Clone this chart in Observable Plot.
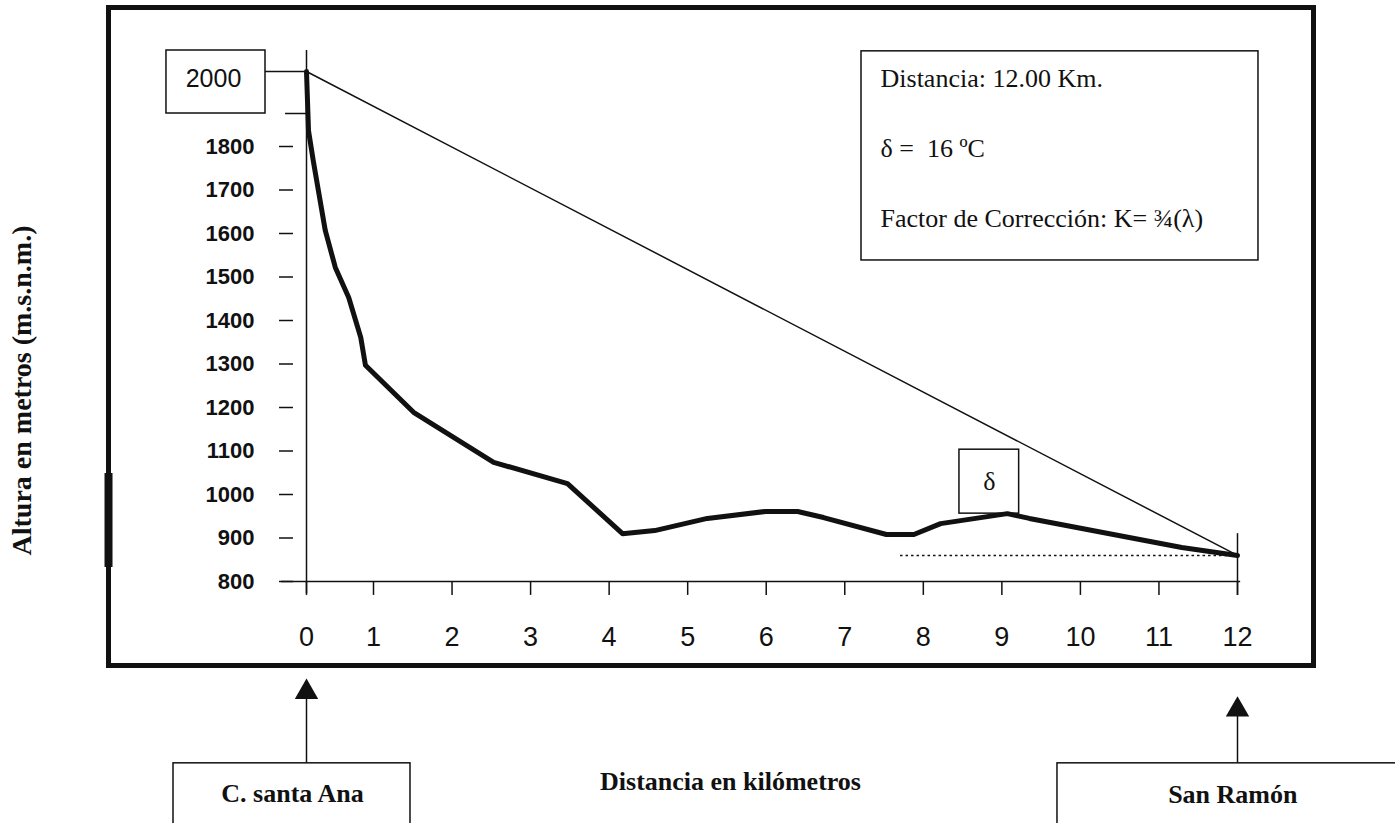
<!DOCTYPE html>
<html>
<head>
<meta charset="utf-8">
<script src="https://cdn.jsdelivr.net/npm/d3@7"></script>
<script src="https://cdn.jsdelivr.net/npm/@observablehq/plot@0.6"></script>
<style>
  body { margin: 0; background: #fff; }
</style>
</head>
<body>
<div id="chart"></div>
<script>
// Perfil altitudinal entre C. Santa Ana y San Ramón
const distanciaKm = [0, 0.03, 0.10, 0.28, 0.43, 0.63, 0.81, 0.88, 1.51, 2.53, 3.47, 4.17, 4.58, 5.25, 5.99, 6.40, 6.73, 7.53, 7.88, 8.22, 9.07, 9.35, 11.29, 12];
const alturaM     = [2000, 1848, 1768, 1607, 1522, 1453, 1361, 1297, 1189, 1074, 1025, 910, 917, 945, 961, 961, 947, 908, 908, 933, 956, 945, 878, 860];

const ticksKm = [0, 1, 2, 3, 4, 5, 6, 7, 8, 9, 10, 11, 12];
const ticksAltura = [800, 900, 1000, 1100, 1200, 1300, 1400, 1500, 1600, 1700, 1800];
const alturaInicio = 2000;
const textosInfo = ["Distancia: 12.00 Km.", "\u03b4 =\u00a0 16 \u00baC", "Factor de Corrección: K= \u00be(\u03bb)"];
const origen = "C. santa Ana";
const destino = "San Ramón";
const tituloX = "Distancia en kilómetros";
const tituloY = "Altura en metros (m.s.n.m.)";

const perfil = distanciaKm.map((km, i) => ({km, m: alturaM[i]}));
const inicio = perfil[0];
const fin = perfil[perfil.length - 1];

const ink = "#111";
const serif = "'Liberation Serif', 'Times New Roman', serif";
const sans = "'Liberation Sans', Arial, sans-serif";

// The drawing's axes are not uniform: the first kilometre is drawn shorter,
// and the band 1800–2000 m is drawn compressed. These piecewise maps turn
// km and metres into drawing units that are then scaled linearly.
const tramoKm0 = 0.853;                       // width of km 0–1 relative to the others
const tramoAlt1 = 0.33 / 0.435;               // 1800–1900 m relative to 800–1800 m
const tramoAlt2 = 0.42 / 0.435;               // 1900–2000 m and above
const kmDibujo = (km) => km < 1 ? km * tramoKm0 : tramoKm0 + (km - 1);
const altDibujo = (m) => m <= 1800 ? m
  : m <= 1900 ? 1800 + (m - 1800) * tramoAlt1
  : 1800 + 100 * tramoAlt1 + (m - 1900) * tramoAlt2;

// annotation boxes, in km / metres
const cajas = [
  {x1: -2.09, x2: -0.612, y1: 1900, y2: 2050},   // valor 2000
  {x1: 7.213, x2: 12.267, y1: 1538, y2: 2048},   // datos del tramo
  {x1: 8.46, x2: 9.22, y1: 956, y2: 1103},       // delta
  {x1: -1.985, x2: 1.471, y1: 205, y2: 382},     // origen
  {x1: 9.708, x2: 14.4, y1: 205, y2: 382}        // destino
];
const flechas = [
  {km: inicio.km, punta: 545.7, base: 540, caja: 382},
  {km: fin.km, punta: 505, base: 490, caja: 382}
];

const chart = Plot.plot({
  width: 1395,
  height: 823,
  marginLeft: 108,
  marginRight: 82,
  marginTop: 7,
  marginBottom: 158,
  style: {background: "#fff", color: ink, overflow: "visible"},
  x: {axis: null, transform: kmDibujo, domain: [kmDibujo(0), kmDibujo(12)], range: [306, 1237]},
  y: {axis: null, transform: altDibujo, domain: [altDibujo(800), altDibujo(2000)], range: [581, 71]},
  marks: [
    Plot.frame({stroke: ink, strokeWidth: 5}),
    Plot.ruleX([-2.955], {y1: 832, y2: 1048, stroke: ink, strokeWidth: 8}),

    // axis lines
    Plot.ruleX([0], {y1: 772, y2: 2050, stroke: ink, strokeWidth: 1.5}),
    Plot.ruleY([800], {x1: -0.373, x2: 12.04, stroke: ink, strokeWidth: 1.5}),
    Plot.ruleX([12], {y1: 768, y2: 910, stroke: ink, strokeWidth: 1.5}),
    Plot.ruleY([1900], {x1: -0.313, x2: 0, stroke: ink, strokeWidth: 1.5}),
    Plot.ruleY([alturaInicio], {x1: -0.612, x2: 0, stroke: ink, strokeWidth: 1.5}),

    // x ticks and labels (kilometres)
    Plot.ruleX(ticksKm, {y1: 800, y2: 768, stroke: ink, strokeWidth: 1.5}),
    Plot.text(ticksKm, {x: (d) => d, y: 671, text: (d) => String(d), fontSize: 27, fontFamily: sans, fill: ink}),

    // y ticks and labels (metres), detached from the axis line
    Plot.ruleY(ticksAltura, {x1: -0.403, x2: -0.194, stroke: ink, strokeWidth: 1.5}),
    Plot.text(ticksAltura, {
      x: -0.776, y: (d) => d, text: (d) => String(d), textAnchor: "end",
      fontSize: 22, fontWeight: "bold", fontFamily: sans, fill: ink
    }),

    // annotation boxes
    Plot.rect(cajas, {x1: "x1", x2: "x2", y1: "y1", y2: "y2", fill: "#fff", stroke: ink, strokeWidth: 1.5}),

    // straight line between both ends and level of arrival
    Plot.line([inicio, fin], {x: "km", y: "m", stroke: ink, strokeWidth: 1.5}),
    Plot.ruleY([fin.m], {x1: 7.71, x2: fin.km, stroke: ink, strokeWidth: 1.5, strokeDasharray: "2.5,3"}),

    // terrain profile
    Plot.line(perfil, {x: "km", y: "m", stroke: ink, strokeWidth: 5, strokeLinejoin: "round"}),

    // arrows to the end points
    Plot.ruleX(flechas, {x: "km", y1: "caja", y2: "base", stroke: ink, strokeWidth: 1.5}),
    Plot.dot(flechas, {x: "km", y: "punta", symbol: "triangle", r: 8.7, fill: ink, stroke: null}),

    // texts
    Plot.text([String(alturaInicio)], {x: -1.388, y: 1983, fontSize: 25, fontFamily: sans, fill: ink}),
    Plot.text(textosInfo, {
      x: 7.455, y: (d, i) => [1983, 1795, 1634][i], textAnchor: "start",
      fontSize: 26, fontFamily: serif, fill: ink
    }),
    Plot.text(["\u03b4"], {x: 8.84, y: 1030, fontSize: 26, fontFamily: serif, fill: ink}),
    Plot.text([tituloX], {x: 5.545, y: 340, fontSize: 26, fontWeight: "bold", fontFamily: serif, fill: ink}),
    Plot.text([tituloY], {x: -4.24, y: 1239, rotate: -90, fontSize: 28, fontWeight: "bold", fontFamily: serif, fill: ink}),
    Plot.text([origen], {x: -0.209, y: 313, fontSize: 26, fontWeight: "bold", fontFamily: serif, fill: ink}),
    Plot.text([destino], {x: 11.94, y: 311, fontSize: 26, fontWeight: "bold", fontFamily: serif, fill: ink})
  ]
});

document.getElementById("chart").append(chart);
</script>
</body>
</html>
